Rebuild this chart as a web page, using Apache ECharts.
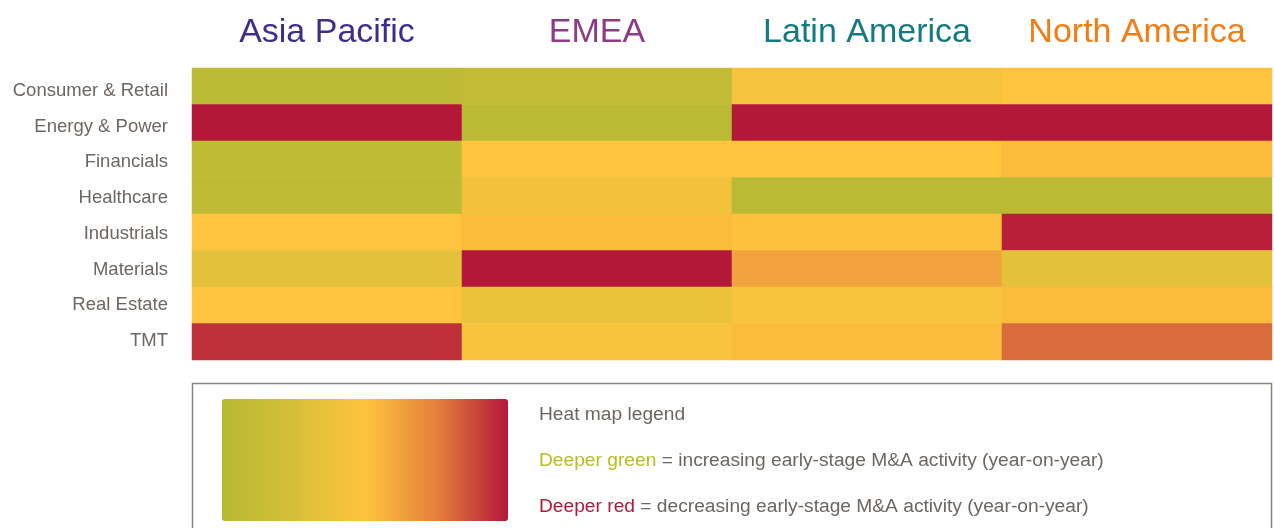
<!DOCTYPE html>
<html><head><meta charset="utf-8">
<script src="https://cdn.jsdelivr.net/npm/echarts@6/dist/echarts.min.js"></script>
<style>html,body{margin:0;padding:0;background:#fff}#c{width:1274px;height:528px}</style>
</head><body><div id="c"></div>
<script>
// Data
const regions = ['Asia Pacific', 'EMEA', 'Latin America', 'North America'];
const sectors = ['Consumer & Retail', 'Energy & Power', 'Financials', 'Healthcare', 'Industrials', 'Materials', 'Real Estate', 'TMT'];
// 0 = deepest green (increasing activity), 50 = neutral yellow, 100 = deepest red (decreasing)
const asiaPacific  = [6, 100, 8, 8, 50, 33, 50, 94];
const emea         = [9, 4, 50, 42, 53, 100, 38, 46];
const latinAmerica = [44, 100, 50, 4, 51, 62, 46, 53];
const northAmerica = [50, 100, 53, 4, 98, 33, 53, 80];
const legendTitle = 'Heat map legend';
const legendGreen = 'Deeper green';
const legendGreenRest = ' = increasing early-stage M&A activity (year-on-year)';
const legendRed = 'Deeper red';
const legendRedRest = ' = decreasing early-stage M&A activity (year-on-year)';

// Styles
const headerColors = ['#3b2f8c', '#8e3a84', '#127a80', '#f47c12'];
const rampColors = ['#b5b934', '#d7bf38', '#fec43e', '#e4803b', '#b31838'];

const columns = [asiaPacific, emea, latinAmerica, northAmerica];
const data = [];
columns.forEach((col, xi) => col.forEach((v, yi) => data.push([xi, yi, v])));

const rich = {};
regions.forEach((r, i) => { rich['h' + i] = { color: headerColors[i], fontSize: 34, fontFamily: 'Liberation Sans' }; });

const legendFont = '19.2px Liberation Sans';
const hidden = { axisLine: { show: false }, axisTick: { show: false }, splitLine: { show: false } };
const chart = echarts.init(document.getElementById('c'), null, { renderer: 'canvas' });
chart.setOption({
  animation: false,
  grid: [
    { left: 192, right: 2, top: 68, height: 292 },
    { left: 192, right: 2, top: 73, height: 286 }
  ],
  xAxis: [{
    type: 'category', data: regions, position: 'top', gridIndex: 0, ...hidden,
    axisLabel: {
      margin: 18,
      formatter: (v) => '{h' + regions.indexOf(v) + '|' + v + '}',
      rich: rich
    }
  }, {
    type: 'category', data: regions, gridIndex: 1, show: false
  }],
  yAxis: [{
    type: 'category', data: sectors, inverse: true, gridIndex: 0, ...hidden,
    axisLabel: { show: false }
  }, {
    type: 'category', data: sectors, inverse: true, gridIndex: 1, ...hidden,
    axisLabel: { margin: 24, color: '#6e6660', fontSize: 18.5, fontFamily: 'Liberation Sans' }
  }],
  visualMap: {
    type: 'continuous', min: 0, max: 100, orient: 'horizontal', seriesIndex: 0,
    left: 222, top: 399, itemWidth: 122, itemHeight: 286,
    padding: 0, calculable: false, showLabel: false, text: null,
    inRange: { color: rampColors }
  },
  series: [{
    type: 'heatmap', data: data, xAxisIndex: 0, yAxisIndex: 0,
    itemStyle: { borderWidth: 0 },
    emphasis: { disabled: true }
  }],
  graphic: [
    { type: 'rect', shape: { x: 192.5, y: 383.5, width: 1079, height: 160 },
      style: { fill: 'none', stroke: '#8c8580', lineWidth: 1.5 }, z: -1 },
    { type: 'text', left: 539, top: 405,
      style: { text: legendTitle, fill: '#6d6660', font: legendFont } },
    { type: 'text', left: 539, top: 451,
      style: { text: '{g|' + legendGreen + '}' + legendGreenRest, fill: '#6d6660', font: legendFont,
        rich: { g: { fill: '#b9bd1e', font: legendFont } } } },
    { type: 'text', left: 539, top: 497,
      style: { text: '{r|' + legendRed + '}' + legendRedRest, fill: '#6d6660', font: legendFont,
        rich: { r: { fill: '#b5173a', font: legendFont } } } }
  ]
});
</script></body></html>
